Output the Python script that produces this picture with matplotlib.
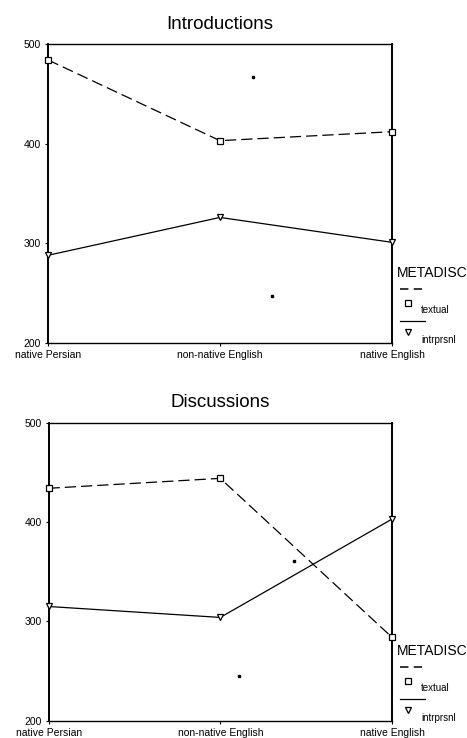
import numpy as np
import matplotlib.pyplot as plt
from matplotlib.lines import Line2D

plt.rcParams['font.family'] = ['Liberation Sans', 'DejaVu Sans']

groups = ['native Persian', 'non-native English', 'native English']
yticks = [200, 300, 400, 500]

intro_textual = [484, 403, 412]
intro_intrprsnl = [288, 326, 301]
disc_textual = [434, 444, 284]
disc_intrprsnl = [315, 304, 403]

# scan specks visible in the original
intro_speck_x = [1.19, 1.30]
intro_speck_y = [467, 247]
disc_speck_x = [1.43, 1.11]
disc_speck_y = [361, 245]

fig = plt.figure(figsize=(4.67, 7.38), dpi=100)
ax1 = fig.add_axes([0.1028, 0.5352, 0.7366, 0.4052])
ax2 = fig.add_axes([0.1040, 0.0234, 0.7354, 0.4038])

def draw(ax, title, textual, intrprsnl, sx, sy):
    x = np.arange(len(groups))
    ax.plot(x, textual, color='black', lw=0.9, dashes=(9, 4), clip_on=False, zorder=5,
            marker='s', ms=4.5, mfc='white', mec='black', mew=0.9)
    ax.plot(x, intrprsnl, color='black', lw=0.9, clip_on=False, zorder=5,
            marker='v', ms=4.5, mfc='white', mec='black', mew=0.9)
    ax.plot(sx, sy, 's', color='black', ms=2, lw=0)
    ax.set_xlim(0, 2)
    ax.set_ylim(200, 500)
    ax.set_xticks(x)
    ax.set_xticklabels(groups, fontsize=7.5)
    ax.set_yticks(yticks)
    ax.set_yticklabels([str(v) for v in yticks], fontsize=7.5)
    ax.tick_params(axis='both', length=2.5, width=0.8, pad=2.5, colors='black')
    for s in ax.spines.values():
        s.set_linewidth(1.0)
        s.set_color('black')
    ax.spines['left'].set_linewidth(1.4)
    ax.spines['right'].set_linewidth(1.4)
    ax.set_title(title, fontsize=13.5, pad=11)

draw(ax1, 'Introductions', intro_textual, intro_intrprsnl, intro_speck_x, intro_speck_y)
draw(ax2, 'Discussions', disc_textual, disc_intrprsnl, disc_speck_x, disc_speck_y)

def legend(y0):
    # y0: pixel row of the METADISC title, from top
    H = 738.0
    W = 467.0
    fig.text(397 / W, 1 - y0 / H, 'METADISC', fontsize=10, va='center', ha='left')
    fig.add_artist(Line2D([400 / W, 422 / W], [1 - (y0 + 16) / H] * 2,
                          color='black', lw=1.1, dashes=(5.5, 3.5)))
    fig.add_artist(Line2D([408 / W], [1 - (y0 + 30) / H], marker='s', ms=4,
                          mfc='white', mec='black', mew=0.9, lw=0))
    fig.add_artist(Line2D([400 / W, 425 / W], [1 - (y0 + 48) / H] * 2,
                          color='black', lw=0.9))
    fig.add_artist(Line2D([408 / W], [1 - (y0 + 59) / H], marker='v', ms=4,
                          mfc='white', mec='black', mew=0.9, lw=0))
    fig.text(421 / W, 1 - (y0 + 37) / H, 'textual', fontsize=7, va='center', ha='left')
    fig.text(421 / W, 1 - (y0 + 67) / H, 'intrprsnl', fontsize=7, va='center', ha='left')

legend(273)
legend(651)

fig.savefig('out.png', dpi=100)
